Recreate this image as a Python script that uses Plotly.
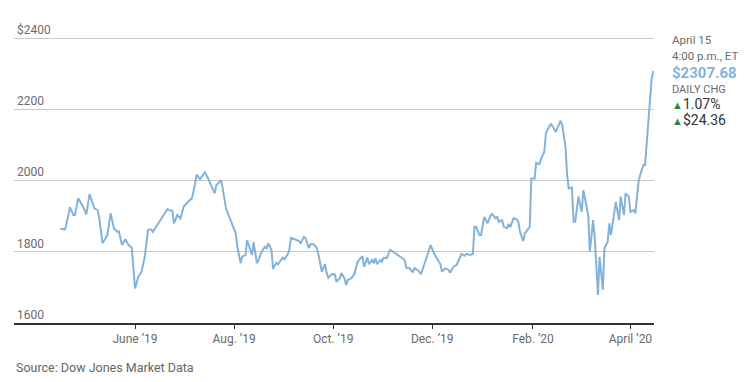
import plotly.graph_objects as go

dates = [
    "2019-04-16", "2019-04-19", "2019-04-22", "2019-04-24", "2019-04-25", "2019-04-27",
    "2019-04-30", "2019-05-02", "2019-05-04", "2019-05-05", "2019-05-07", "2019-05-09",
    "2019-05-10", "2019-05-12", "2019-05-15", "2019-05-17", "2019-05-19", "2019-05-21",
    "2019-05-22", "2019-05-24", "2019-05-26", "2019-05-28", "2019-05-30", "2019-06-01",
    "2019-06-03", "2019-06-05", "2019-06-07", "2019-06-09", "2019-06-11", "2019-06-12",
    "2019-06-14", "2019-06-18", "2019-06-21", "2019-06-22", "2019-06-24", "2019-06-25",
    "2019-06-27", "2019-06-29", "2019-07-01", "2019-07-04", "2019-07-06", "2019-07-08",
    "2019-07-09", "2019-07-11", "2019-07-14", "2019-07-16", "2019-07-18", "2019-07-20",
    "2019-07-21", "2019-07-24", "2019-07-25", "2019-07-27", "2019-07-31", "2019-08-02",
    "2019-08-03", "2019-08-05", "2019-08-06", "2019-08-08", "2019-08-09", "2019-08-12",
    "2019-08-13", "2019-08-15", "2019-08-16", "2019-08-18", "2019-08-20", "2019-08-21",
    "2019-08-22", "2019-08-24", "2019-08-25", "2019-08-27", "2019-08-28", "2019-08-31",
    "2019-09-01", "2019-09-03", "2019-09-04", "2019-09-05", "2019-09-07", "2019-09-10",
    "2019-09-11", "2019-09-13", "2019-09-14", "2019-09-16", "2019-09-17", "2019-09-19",
    "2019-09-21", "2019-09-22", "2019-09-24", "2019-09-26", "2019-09-27", "2019-09-28",
    "2019-09-30", "2019-10-02", "2019-10-03", "2019-10-05", "2019-10-06", "2019-10-08",
    "2019-10-09", "2019-10-10", "2019-10-12", "2019-10-14", "2019-10-16", "2019-10-19",
    "2019-10-20", "2019-10-22", "2019-10-23", "2019-10-25", "2019-10-26", "2019-10-27",
    "2019-10-28", "2019-10-30", "2019-10-31", "2019-11-01", "2019-11-03", "2019-11-05",
    "2019-11-07", "2019-11-09", "2019-11-12", "2019-11-14", "2019-11-15", "2019-11-17",
    "2019-11-19", "2019-11-20", "2019-11-22", "2019-11-24", "2019-11-27", "2019-11-30",
    "2019-12-02", "2019-12-04", "2019-12-06", "2019-12-07", "2019-12-09", "2019-12-11",
    "2019-12-12", "2019-12-14", "2019-12-16", "2019-12-18", "2019-12-19", "2019-12-21",
    "2019-12-22", "2019-12-24", "2019-12-26", "2019-12-27", "2019-12-28", "2019-12-30",
    "2019-12-31", "2020-01-02", "2020-01-04", "2020-01-06", "2020-01-07", "2020-01-09",
    "2020-01-10", "2020-01-11", "2020-01-13", "2020-01-14", "2020-01-16", "2020-01-17",
    "2020-01-18", "2020-01-20", "2020-01-22", "2020-01-23", "2020-01-24", "2020-01-26",
    "2020-01-27", "2020-01-28", "2020-01-30", "2020-01-31", "2020-02-02", "2020-02-03",
    "2020-02-05", "2020-02-06", "2020-02-08", "2020-02-09", "2020-02-12", "2020-02-15",
    "2020-02-18", "2020-02-19", "2020-02-21", "2020-02-22", "2020-02-23", "2020-02-25",
    "2020-02-26", "2020-02-27", "2020-02-29", "2020-03-02", "2020-03-03", "2020-03-05",
    "2020-03-06", "2020-03-07", "2020-03-09", "2020-03-10", "2020-03-12", "2020-03-13",
    "2020-03-15", "2020-03-16", "2020-03-18", "2020-03-19", "2020-03-20", "2020-03-23",
    "2020-03-25", "2020-03-26", "2020-03-28", "2020-03-29", "2020-03-31", "2020-04-01",
    "2020-04-03", "2020-04-04", "2020-04-06", "2020-04-07", "2020-04-09", "2020-04-10",
    "2020-04-14", "2020-04-15",
]

prices = [
    1865, 1863, 1925, 1903, 1903, 1950,
    1927, 1905, 1962, 1950, 1922, 1917,
    1894, 1824, 1847, 1908, 1866, 1856,
    1858, 1819, 1835, 1819, 1812, 1697,
    1730, 1744, 1786, 1861, 1863, 1856,
    1870, 1898, 1920, 1917, 1915, 1880,
    1903, 1894, 1927, 1942, 1950, 1992,
    2017, 2004, 2023, 2006, 1983, 1964,
    1987, 2001, 1978, 1922, 1875, 1852,
    1814, 1768, 1786, 1791, 1833, 1791,
    1827, 1768, 1777, 1800, 1814, 1808,
    1824, 1805, 1752, 1769, 1765, 1784,
    1779, 1793, 1805, 1839, 1836, 1830,
    1824, 1842, 1838, 1810, 1821, 1821,
    1810, 1791, 1744, 1765, 1740, 1727,
    1737, 1737, 1716, 1725, 1740, 1725,
    1707, 1721, 1725, 1737, 1772, 1788,
    1758, 1784, 1765, 1777, 1768, 1782,
    1765, 1777, 1772, 1783, 1782, 1805,
    1800, 1793, 1782, 1777, 1755, 1754,
    1742, 1754, 1749, 1737, 1777, 1819,
    1796, 1779, 1765, 1744, 1754, 1749,
    1741, 1758, 1763, 1784, 1794, 1789,
    1794, 1791, 1794, 1870, 1870, 1847,
    1847, 1898, 1880, 1903, 1906, 1894,
    1898, 1884, 1889, 1870, 1866, 1878,
    1869, 1894, 1891, 1884, 1856, 1830,
    1852, 1858, 1870, 2006, 2006, 2050,
    2046, 2062, 2081, 2134, 2160, 2137,
    2168, 2156, 2095, 2016, 1978, 1980,
    1884, 1884, 1955, 1912, 1973, 1927,
    1903, 1800, 1889, 1842, 1679, 1786,
    1693, 1810, 1828, 1880, 1847, 1940,
    1889, 1955, 1903, 1964, 1955, 1912,
    1917, 1908, 1997, 2016, 2044, 2044,
    2283.32, 2307.68,
]

y_tickvals = [1600, 1800, 2000, 2200, 2400]
y_ticktext = ["1600", "1800", "2000", "2200", "$2400"]
x_tickvals = ["2019-06-01", "2019-08-01", "2019-10-01", "2019-12-01", "2020-02-01", "2020-04-01"]
x_ticktext = ["June \u201919", "Aug. \u201919", "Oct. \u201919", "Dec. \u201919", "Feb. \u201920", "April \u201920"]

FONT = "Roboto"
GREY = "#6b6b6b"

fig = go.Figure()
fig.add_trace(go.Scatter(
    x=dates, y=prices, mode="lines",
    line=dict(color="#84b3da", width=2),
    hoverinfo="skip", showlegend=False,
))

# page body has an 8px margin, so the figure is sized to the visible area
fig.update_layout(
    width=743, height=374,
    margin=dict(l=6, r=97, t=28, b=59),
    paper_bgcolor="white", plot_bgcolor="white",
    font=dict(family=FONT, size=12, color=GREY),
    xaxis=dict(
        type="date",
        range=["2019-03-18 12:00", "2020-04-15 12:00"],
        tickvals=x_tickvals, ticktext=x_ticktext,
        ticks="outside", ticklen=4, tickcolor="#333", tickwidth=1,
        showline=True, linecolor="#333", linewidth=1.5,
        showgrid=False, zeroline=False,
        tickfont=dict(family=FONT, size=12, color=GREY),
    ),
    yaxis=dict(
        range=[1600, 2406],
        tickvals=y_tickvals, ticktext=y_ticktext,
        ticklabelposition="inside top",
        ticklabeloverflow="allow",
        showgrid=True, gridcolor="#c8c8c8", gridwidth=1,
        zeroline=False, showline=False, ticks="",
        tickfont=dict(family=FONT, size=12, color=GREY),
    ),
)

ann_x = 1.025
ytop = 0.993 * 285 / 287
def py(v):
    return v * 285 / 287

fig.add_annotation(xref="paper", yref="paper", x=ann_x, y=py(0.993), xanchor="left", yanchor="middle",
                   text="April 15", showarrow=False, font=dict(size=11.5, color=GREY, family=FONT))
fig.add_annotation(xref="paper", yref="paper", x=ann_x, y=py(0.937), xanchor="left", yanchor="middle",
                   text="4:00 p.m., ET", showarrow=False, font=dict(size=11.5, color=GREY, family=FONT))
fig.add_annotation(xref="paper", yref="paper", x=ann_x, y=py(0.877), xanchor="left", yanchor="middle",
                   text="<b>$2307.68</b>", showarrow=False, font=dict(size=15, color="#84b3da", family=FONT))
fig.add_annotation(xref="paper", yref="paper", x=ann_x, y=py(0.821), xanchor="left", yanchor="middle",
                   text="DAILY CHG", showarrow=False, font=dict(size=11, color=GREY, family=FONT))
fig.add_annotation(xref="paper", yref="paper", x=ann_x, y=py(0.768), xanchor="left", yanchor="middle",
                   text="<span style='color:#1f8a3e;font-size:11px'>\u25b2</span>1.07%", showarrow=False,
                   font=dict(size=14, color="#333", family=FONT))
fig.add_annotation(xref="paper", yref="paper", x=ann_x, y=py(0.712), xanchor="left", yanchor="middle",
                   text="<span style='color:#1f8a3e;font-size:11px'>\u25b2</span>$24.36", showarrow=False,
                   font=dict(size=14, color="#333", family=FONT))
fig.add_annotation(xref="paper", yref="paper", x=0.0, y=py(-0.155), xanchor="left", yanchor="middle",
                   text="Source: Dow Jones Market Data", showarrow=False,
                   font=dict(size=12.5, color="#666", family=FONT))

fig.write_html("out.html")
